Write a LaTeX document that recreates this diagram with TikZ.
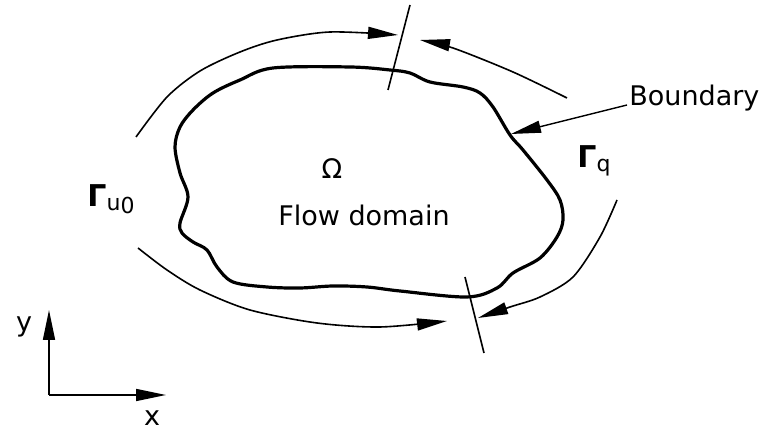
\documentclass[tikz,border=0pt]{standalone}
\usepackage{fontspec}
\setmainfont{DejaVu Sans}
\usetikzlibrary{arrows.meta}

\begin{document}
\begin{tikzpicture}[x=0.5pt, y=-0.5pt,
           > = {Triangle[length=15pt, width=6pt]},
  flow/.style = {->, line width=0.8pt},% arcs along the boundary parts
  wall/.style = {line width=1.6pt, line join=round},% boundary of the domain
   cut/.style = {line width=0.8pt},% split points of the boundary
   lbl/.style = {inner sep=0pt, font=\fontsize{13.5}{16}\selectfont},
]
\useasboundingbox (0,0) rectangle (778,431);
% domain
\draw[wall] plot[smooth cycle, tension=0.55] coordinates {
  (390,70) (410,73) (430,82) (463,87) (480,93) (493,107) (510,135) (523,150)
  (547,180) (560,200) (563,220) (557,237) (540,258) (513,273) (497,288)
  (467,297) (400,291) (367,287) (333,286) (300,288) (267,287) (233,282)
  (217,267) (207,250) (193,242) (182,233) (180,223) (188,197) (180,173)
  (175,147) (180,127) (193,110) (213,93) (240,80) (273,68) (350,67)};
% texts
\node[lbl] (omega) at (332,169) {Ω};
\node[lbl] (name) at (364,215) {Flow domain};
\node[lbl, anchor=west] (bnd) at (629,98) {Boundary};
\node[lbl] (gu) at (111,199) {{\fontsize{15}{16}\bfseries Γ}\raisebox{-0.3ex}{\fontsize{11}{12}\selectfont u\raisebox{-0.2ex}{0}}};
\node[lbl] (gq) at (594,161) {{\fontsize{15}{16}\bfseries Γ}\raisebox{-0.3ex}{\fontsize{11}{12}\selectfont q}};
% split points
\coordinate (t1) at (410,5);   \coordinate (t2) at (388,90);
\coordinate (b1) at (465,277); \coordinate (b2) at (484,353);
\draw[cut] (t1) -- (t2);
\draw[cut] (b1) -- (b2);
% pointer to the boundary
\coordinate (wallpt) at (511,134);
\draw[->, line width=0.7pt] (bnd.west) ++(-2,7) -- (wallpt);
% arcs
\coordinate (u1) at (398,35);
\coordinate (u2) at (447,321);
\coordinate (q1) at (420,40);
\coordinate (q2) at (478,318);
\draw[flow] plot[smooth] coordinates {(136,137) (167,97) (200,71) (240,52)
  (277,40) (330,32) (u1)};
\draw[flow] plot[smooth] coordinates {(138,248) (167,270) (200,290) (250,310)
  (317,323) (380,327) (u2)};
\draw[flow] plot[smooth] coordinates {(567,98) (513,72) (453,48) (q1)};
\draw[flow] plot[smooth] coordinates {(617,200) (600,237) (573,277) (540,297)
  (510,307) (q2)};
% axes
\coordinate (o) at (49,395);
\coordinate (ytip) at (49,310);
\coordinate (xtip) at (166,395);
\draw[->, line width=0.8pt] (o) -- (ytip);
\draw[->, line width=0.8pt] (o) -- (xtip);
\node[lbl] (ylab) at (24,327) {y};
\node[lbl] (xlab) at (152,418) {x};
\end{tikzpicture}
\end{document}
